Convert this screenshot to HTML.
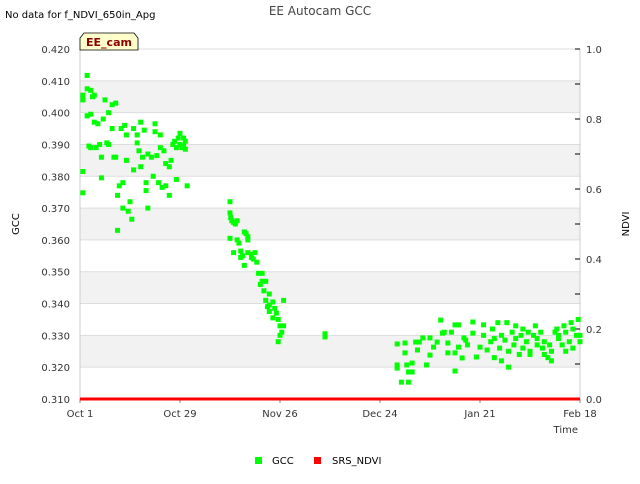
<!DOCTYPE html>
<html><head><meta charset="utf-8"><style>
body{margin:0;background:#fff;font-family:"DejaVu Sans","Liberation Sans",sans-serif}
svg text{font-family:"DejaVu Sans","Liberation Sans",sans-serif}
</style></head><body>
<svg id="chart" width="640" height="480" viewBox="0 0 640 480">
<text x="5" y="18" font-size="10" fill="#000">No data for f_NDVI_650in_Apg</text>
<text x="320" y="15" font-size="12" fill="#444" text-anchor="middle">EE Autocam GCC</text>
<g id="bands"></g>
<g id="grid"></g>
<g id="axes"></g>
<g id="marks"></g>
<g>
<path d="M80,50 L80,38 L84,33 L134,33 L138,38 L138,50 Z" fill="#ffffcc" stroke="#000" stroke-width="0.8"/>
<text x="109" y="46" font-size="11" font-weight="bold" fill="#8b0000" text-anchor="middle">EE_cam</text>
</g>
<text x="19" y="224" font-size="10" text-anchor="middle" transform="rotate(-90 19 224)">GCC</text>
<text x="629" y="224" font-size="10" text-anchor="middle" transform="rotate(-90 629 224)">NDVI</text>
<text x="578" y="433" font-size="10" text-anchor="end" fill="#333">Time</text>
<g>
<rect x="255" y="457" width="7" height="7" fill="#00ff00"/>
<text x="272" y="464" font-size="10">GCC</text>
<rect x="314" y="457" width="7" height="7" fill="#ff0000"/>
<text x="332" y="464" font-size="10">SRS_NDVI</text>
</g>
</svg>
<script>
const xTickLabels=["Oct 1","Oct 29","Nov 26","Dec 24","Jan 21","Feb 18"];
const xTickDays=[0,28,56,84,112,140];
const yTickLabels=["0.310","0.320","0.330","0.340","0.350","0.360","0.370","0.380","0.390","0.400","0.410","0.420"];
const yTickValues=[0.31,0.32,0.33,0.34,0.35,0.36,0.37,0.38,0.39,0.40,0.41,0.42];
const y2TickValues=[0,0.2,0.4,0.6,0.8,1.0];
const y2TickLabels=["0.0","0.2","0.4","0.6","0.8","1.0"];
const gccDays=[0.8,0.8,0.8,0.8,2,2,3,3.5,4,2,3,2.5,3,4,5,4.5,5.5,6,6,6.5,7,8,8,7.5,9,9,10,10,9.5,10.5,11,10.5,12,12,11.5,12.5,13,13,13.5,14,14.5,15,15,16,16,16.5,17,17,17.5,18,18.5,18.5,19,19,20,20.5,21,21,21.5,22,22.5,22.5,23,23.5,24,24,25,25,25.5,26,26.5,27,27,27.5,28,28,28.5,29,29,29.5,29.5,30,
42,42,42.2,42.5,43,44,43.5,42,43,44,44.5,45,45.5,46,46.5,47,47,48,48,48.5,46,45,47,49,49.5,50,51,51,50.5,52,51.5,53,52,52.5,53,53,54,54.5,55,54,55.5,56,57,56.5,57,56,55.5,
68.6,68.6,
88.8,91,91,88.8,88.8,90,92,92,93,93,91.5,94,94.5,96,95,97,98,98,99,100,101,101.5,102,103,103,104,105,105,106,106,107,107.5,108,108.5,105,110,110,111,112,113,113,114,
115,115.5,116,116,117,117.5,118,118,119,119.5,120,120,121,121.5,122,122,123,123.5,124,124,125,125.5,126,126,127,127.5,128,128,129,129.5,130,130,131,131.5,132,132,133,133.5,134,134,135,135.5,136,136,137,137.5,138,138,139,139.5,140,140];
const gccValues=[0.3815,0.3748,0.4055,0.4040,0.4117,0.4075,0.4070,0.4050,0.4055,0.3990,0.3995,0.3895,0.3890,0.3970,0.3965,0.3890,0.3900,0.3860,0.3795,0.3980,0.4040,0.4000,0.3900,0.3905,0.4025,0.3950,0.4030,0.3860,0.3860,0.3740,0.3770,0.3630,0.3780,0.3700,0.3950,0.3960,0.3930,0.3850,0.3690,0.3720,0.3665,0.3950,0.3820,0.3930,0.3905,0.3880,0.3830,0.3970,0.3860,0.3945,0.3780,0.3755,0.3700,0.3870,0.3860,0.3800,0.3940,0.3965,0.3865,0.3780,0.3930,0.3890,0.3765,0.3880,0.3840,0.3770,0.3830,0.3740,0.3850,0.3900,0.3910,0.3890,0.3790,0.3920,0.3935,0.3900,0.3890,0.3920,0.3895,0.3910,0.3885,0.3770,
0.3720,0.3685,0.3670,0.3660,0.3655,0.3660,0.3650,0.3605,0.3560,0.3600,0.3590,0.3545,0.3550,0.3625,0.3620,0.3610,0.3600,0.3545,0.3555,0.3540,0.3520,0.3565,0.3560,0.3560,0.3530,0.3495,0.3495,0.3470,0.3460,0.3470,0.3440,0.3430,0.3410,0.3390,0.3375,0.3395,0.3405,0.3385,0.3370,0.3355,0.3350,0.3330,0.3410,0.3310,0.3330,0.3300,0.3280,
0.3305,0.3295,
0.3273,0.3276,0.3245,0.3207,0.3197,0.3153,0.3153,0.3185,0.3213,0.3185,0.3207,0.3279,0.3254,0.3292,0.3279,0.3207,0.3292,0.3238,0.3263,0.3279,0.3348,0.3307,0.3310,0.3276,0.3245,0.3310,0.3333,0.3245,0.3333,0.3263,0.3229,0.3292,0.3285,0.3270,0.3188,0.3342,0.3307,0.3232,0.3263,0.3333,0.3300,0.3254,
0.3280,0.3320,0.3230,0.3290,0.3340,0.3260,0.3220,0.3300,0.3285,0.3340,0.3250,0.3200,0.3310,0.3270,0.3330,0.3290,0.3240,0.3300,0.3320,0.3260,0.3280,0.3310,0.3240,0.3250,0.3300,0.3330,0.3270,0.3290,0.3310,0.3260,0.3280,0.3240,0.3230,0.3270,0.3250,0.3220,0.3310,0.3320,0.3290,0.3300,0.3270,0.3330,0.3250,0.3310,0.3280,0.3340,0.3260,0.3320,0.3300,0.3350,0.3280,0.3300];
const ndviDays=[0,140];
const ndviValues=[0.0,0.0];

const X0=80,X1=580,Y0=399,Y1=49;
const xScale=d=>X0+(d-0)/(140-0)*(X1-X0);
const yScale=v=>Y0-(v-0.31)/(0.42-0.31)*(Y0-Y1);
const y2Scale=v=>Y0-v*(Y0-Y1);
const NS="http://www.w3.org/2000/svg";
function mk(tag,attrs,parent){const e=document.createElementNS(NS,tag);for(const k in attrs)e.setAttribute(k,attrs[k]);parent.appendChild(e);return e;}
const bands=document.getElementById('bands'),grid=document.getElementById('grid'),axes=document.getElementById('axes'),marks=document.getElementById('marks');
mk('rect',{x:X0,y:Y1,width:X1-X0,height:Y0-Y1,fill:'#fff'},bands);
for(let i=1;i<yTickValues.length-1;i+=2){
 const b=mk('rect',{x:X0,y:yScale(yTickValues[i+1]),width:X1-X0,height:yScale(yTickValues[i])-yScale(yTickValues[i+1]),fill:'#f2f2f2'},bands);
 
 
}
yTickValues.forEach((v,i)=>{
 const y=yScale(v);
 const l=mk('line',{x1:X0,x2:X1,y1:y,y2:y,stroke:'#dddddd','stroke-width':1},grid);
 
 
 const t=mk('text',{x:X0-10,y:y+4,'font-size':10,'text-anchor':'end',fill:'#333'},axes);
 t.textContent=yTickLabels[i];
 
 
});
const ax=mk('path',{d:`M${X0},${Y1}L${X0},${Y0}L${X1},${Y0}L${X1},${Y1}`,fill:'none',stroke:'#cccccc','stroke-width':1},axes);


xTickDays.forEach((d,i)=>{
 const x=xScale(d);
 mk('line',{x1:x,x2:x,y1:Y0,y2:Y0+4,stroke:'#888'},axes);
 const t=mk('text',{x:x,y:Y0+18,'font-size':10,'text-anchor':'middle',fill:'#333'},axes);
 t.textContent=xTickLabels[i];
 
 
});
for(let v=0;v<=1.0001;v+=0.1){
 const y=y2Scale(v);
 mk('line',{x1:X1-5,x2:X1,y1:y,y2:y,stroke:'#000'},axes);
}
y2TickValues.forEach((v,i)=>{
 const t=mk('text',{x:X1+6,y:y2Scale(v)+4,'font-size':10,fill:'#333'},axes);
 t.textContent=y2TickLabels[i];
 
 
});
gccDays.forEach((d,i)=>{
 const r=mk('rect',{x:xScale(d)-2.5,y:yScale(gccValues[i])-2.5,width:5,height:5,fill:'#00ff00'},marks);
 
 
});
const nd=mk('polyline',{points:ndviDays.map((d,i)=>xScale(d)+','+y2Scale(ndviValues[i])).join(' '),fill:'none',stroke:'#ff0000','stroke-width':3},marks);


</script>
</body></html>
